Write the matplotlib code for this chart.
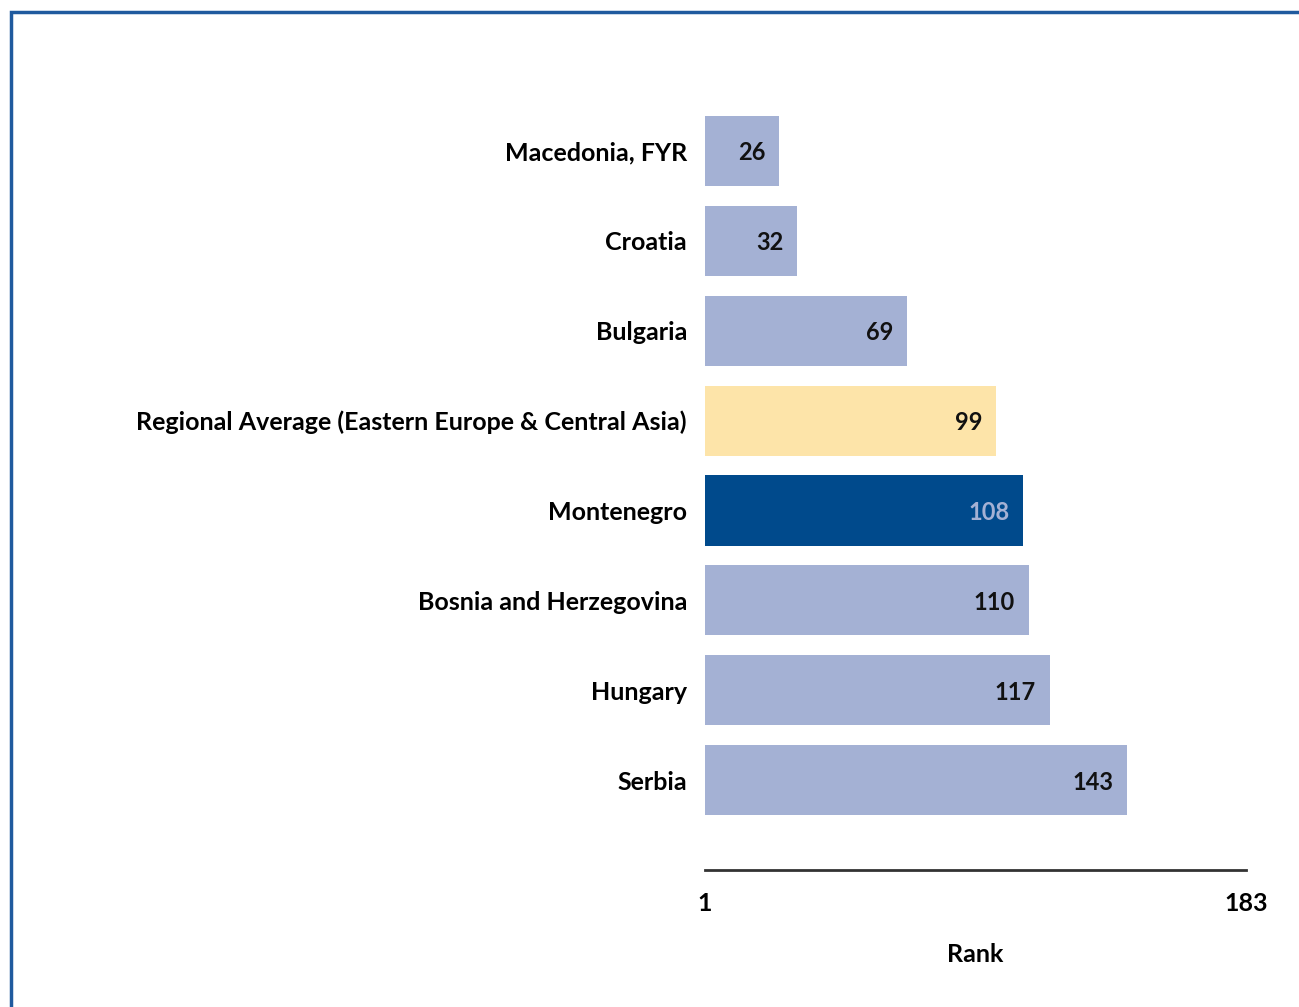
import matplotlib.pyplot as plt
import matplotlib.patches as mpatches

plt.rcParams['font.family'] = ['Lato', 'DejaVu Sans']

countries = ['Macedonia, FYR', 'Croatia', 'Bulgaria',
             'Regional Average (Eastern Europe & Central Asia)',
             'Montenegro', 'Bosnia and Herzegovina', 'Hungary', 'Serbia']
ranks = [26, 32, 69, 99, 108, 110, 117, 143]
rank_min, rank_max = 1, 183

light = '#a4b1d4'
colors = [light, light, light, '#fde4a9', '#004a8c', light, light, light]
text_colors = ['#111111'] * 3 + ['#111111', light] + ['#111111'] * 3

fig = plt.figure(figsize=(12.99, 10.07), dpi=100)
ax = fig.add_axes([705 / 1299, 137 / 1007, 541 / 1299, 764 / 1007])

y = list(range(len(countries)))
ax.barh(y, [r - rank_min for r in ranks], left=rank_min, height=0.78,
        color=colors)

for yi, r, tc in zip(y, ranks, text_colors):
    ax.annotate(str(r), xy=(r, yi), xytext=(-10, 0), textcoords='offset points',
                ha='right', va='center_baseline', fontsize=17, fontweight='bold',
                color=tc)

ax.set_xlim(rank_min, rank_max)
ax.set_ylim(8, -0.5)
ax.set_yticks(y)
ax.set_yticklabels(countries, fontsize=18, fontweight='bold')
ax.tick_params(axis='y', length=0, pad=13)
ax.set_xticks([rank_min, rank_max])
ax.set_xticklabels([str(rank_min), str(rank_max)], fontsize=18, fontweight='bold')
ax.tick_params(axis='x', length=0, pad=16)
ax.set_xlabel('Rank', fontsize=18, fontweight='bold', labelpad=20)

for s in ['top', 'right', 'left']:
    ax.spines[s].set_visible(False)
ax.spines['bottom'].set_linewidth(2)
ax.spines['bottom'].set_color('#333333')

# outer frame (only left and top edges are visible)
frame = mpatches.Rectangle((11 / 1299, -0.1), 1.2, (1007 - 12) / 1007 + 0.1,
                           transform=fig.transFigure, fill=False,
                           edgecolor='#1f5a9e', linewidth=2.5, clip_on=False)
fig.patches.append(frame)

fig.savefig('out.png', dpi=100)
